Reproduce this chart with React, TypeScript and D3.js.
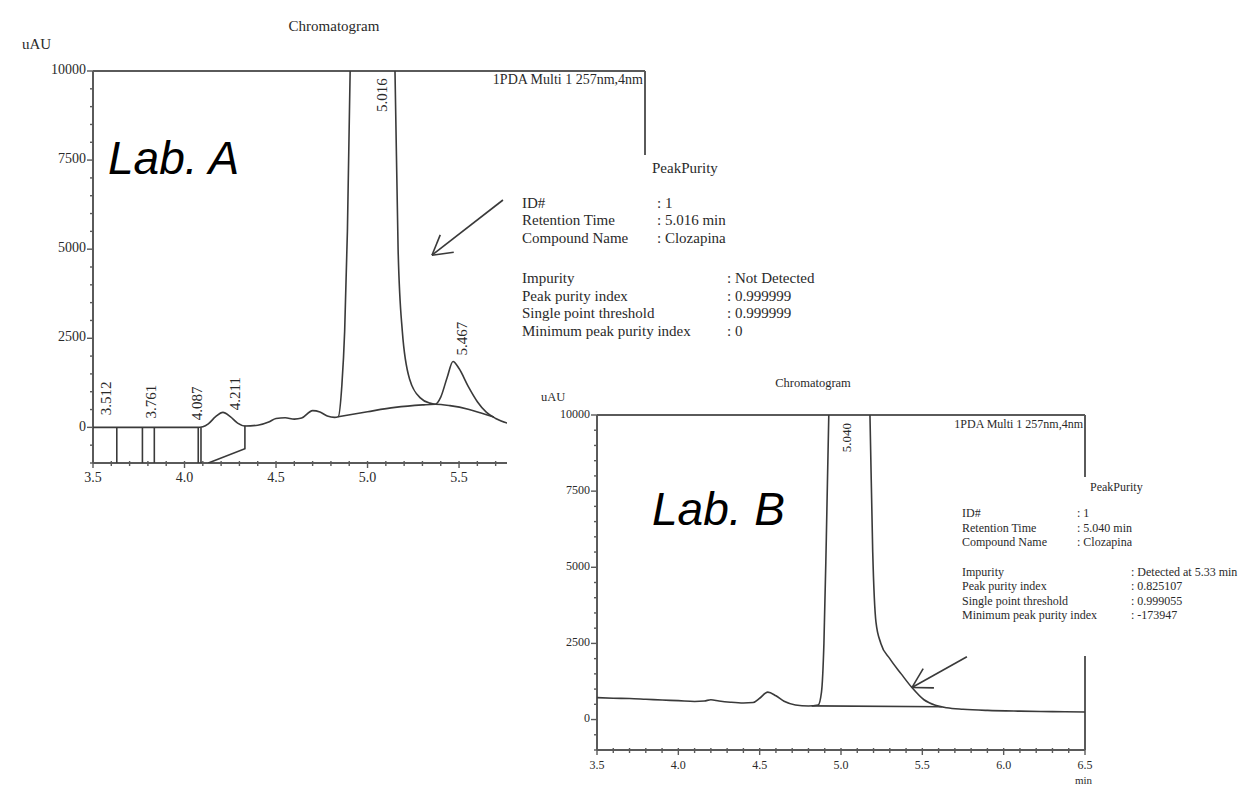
import React from 'react';
import * as d3 from 'd3';

type Pt = [number, number];

// ---------- DATA ----------
const yTickValues = [0, 2500, 5000, 7500, 10000];
const xTicksA = [3.5, 4.0, 4.5, 5.0, 5.5];
const xTicksB = [3.5, 4.0, 4.5, 5.0, 5.5, 6.0, 6.5];

const traceA: Pt[] = [
  [3.5, 0], [4.07, 0], [4.1, 20], [4.13, 100], [4.17, 300], [4.21, 420], [4.25, 300],
  [4.29, 120], [4.33, 40], [4.4, 60], [4.46, 150], [4.5, 250], [4.55, 270], [4.6, 230],
  [4.64, 260], [4.7, 470], [4.74, 430], [4.78, 320], [4.82, 280], [4.84, 300],
  [4.86, 1200], [4.875, 2700], [4.89, 5500], [4.905, 10000], [4.93, 13500], [5.02, 15000],
  [5.12, 13500], [5.15, 10000], [5.167, 5000], [5.19, 2700], [5.23, 1350], [5.29, 820],
  [5.34, 680], [5.37, 650], [5.4, 850], [5.435, 1400], [5.467, 1850], [5.5, 1650],
  [5.55, 1150], [5.6, 720], [5.65, 420], [5.7, 250], [5.77, 110],
];
const baselineA: Pt[] = [
  [4.84, 300], [5.0, 440], [5.15, 560], [5.3, 630], [5.37, 650], [5.45, 610],
  [5.55, 510], [5.62, 400], [5.69, 290],
];
const integrationMarksA = [3.63, 3.77, 3.835, 4.075, 4.09];
const dropShapeA: Pt[] = [[4.33, 50], [4.33, -600], [4.13, -1000]];
const peakLabelsA = [
  { text: '3.512', t: 3.577, v: 340 },
  { text: '3.761', t: 3.828, v: 250 },
  { text: '4.087', t: 4.079, v: 200 },
  { text: '4.211', t: 4.287, v: 480 },
  { text: '5.016', t: 5.085, v: 8850 },
  { text: '5.467', t: 5.522, v: 2020 },
];
const arrowA: Pt[] = [[5.74, 6380], [5.352, 4830]];

const traceB: Pt[] = [
  [3.5, 720], [3.6, 700], [3.7, 690], [3.8, 665], [3.9, 640], [4.0, 620], [4.1, 595],
  [4.16, 610], [4.2, 650], [4.25, 610], [4.32, 570], [4.4, 545], [4.46, 560], [4.5, 700],
  [4.55, 900], [4.6, 780], [4.65, 600], [4.72, 480], [4.8, 445], [4.86, 480], [4.88, 900],
  [4.895, 2500], [4.91, 6000], [4.925, 10000], [4.95, 14000], [5.05, 15500], [5.15, 14000],
  [5.178, 10000], [5.195, 5500], [5.215, 3200], [5.245, 2500], [5.3, 2000], [5.37, 1500],
  [5.436, 1050], [5.51, 650], [5.58, 470], [5.65, 390], [5.75, 340], [5.9, 300],
  [6.1, 275], [6.3, 260], [6.5, 250],
];
const baselineB: Pt[] = [[4.82, 450], [5.62, 420]];
const peakLabelsB = [{ text: '5.040', t: 5.043, v: 8780 }];
const arrowB: Pt[] = [[5.774, 2060], [5.436, 1050]];

const legendText = '1PDA Multi 1 257nm,4nm';
const purityHeader = 'PeakPurity';
const purityIdLabels = ['ID#', 'Retention Time', 'Compound Name'];
const purityResultLabels = ['Impurity', 'Peak purity index', 'Single point threshold', 'Minimum peak purity index'];
const purityIdA = [': 1', ': 5.016 min', ': Clozapina'];
const purityResA = [': Not Detected', ': 0.999999', ': 0.999999', ': 0'];
const purityIdB = [': 1', ': 5.040 min', ': Clozapina'];
const purityResB = [': Detected at 5.33 min', ': 0.825107', ': 0.999055', ': -173947'];

// ---------- COMPONENT ----------
type Layout = {
  id: string;
  left: number; right: number; top: number; bottom: number;
  xDomain: [number, number];
  xTicks: number[];
  fs: number;
  peakFs: number;
  titleX: number; titleY: number; titleFs: number;
  uauX: number; uauY: number;
  legendX: number; legendY: number; legendFs: number;
  frameRight: number; rightSegs: [number, number][];
  minLabel?: boolean;
};

const TEXT = '#2a2a2a';
const LINE = '#3a3a3a';
const AXIS = '#5a5a5a';
const SERIF = '"Liberation Serif", "Times New Roman", serif';

function Arrow({ pts, x, y }: { pts: Pt[]; x: any; y: any }) {
  const x0 = x(pts[0][0]), y0 = y(pts[0][1]);
  const x1 = x(pts[1][0]), y1 = y(pts[1][1]);
  const ang = Math.atan2(y0 - y1, x0 - x1);
  const len = 22, spread = (30 * Math.PI) / 180;
  const b1 = [x1 + len * Math.cos(ang - spread), y1 + len * Math.sin(ang - spread)];
  const b2 = [x1 + len * Math.cos(ang + spread), y1 + len * Math.sin(ang + spread)];
  return (
    <g stroke={LINE} strokeWidth={1.6} fill="none">
      <line x1={x0} y1={y0} x2={x1} y2={y1} />
      <line x1={x1} y1={y1} x2={b1[0]} y2={b1[1]} />
      <line x1={x1} y1={y1} x2={b2[0]} y2={b2[1]} />
    </g>
  );
}

function Chart({ L, trace, baseline, marks, drop, labels, arrow }: {
  L: Layout; trace: Pt[]; baseline: Pt[]; marks: number[]; drop: Pt[] | null;
  labels: { text: string; t: number; v: number }[]; arrow: Pt[];
}) {
  const x = d3.scaleLinear().domain(L.xDomain).range([L.left, L.right]);
  const y = d3.scaleLinear().domain([-1000, 10000]).range([L.bottom, L.top]);
  const line = d3.line<Pt>().x(d => x(d[0])).y(d => y(d[1])).curve(d3.curveMonotoneX);
  const straight = d3.line<Pt>().x(d => x(d[0])).y(d => y(d[1]));
  const yMinor = d3.range(-1000, 10001, 500);
  const xMinor = d3.range(Math.round(L.xDomain[0] * 10), Math.floor(L.xDomain[1] * 10 + 1e-6) + 1).map(v => v / 10);
  const clipId = `clip-${L.id}`;
  return (
    <g>
      <defs>
        <clipPath id={clipId}>
          <rect x={L.left} y={L.top} width={L.right - L.left} height={L.bottom - L.top} />
        </clipPath>
      </defs>
      <text x={L.titleX} y={L.titleY} fontSize={L.titleFs} textAnchor="middle" fill={TEXT} fontFamily={SERIF}>Chromatogram</text>
      <text x={L.uauX} y={L.uauY} fontSize={L.titleFs} fill={TEXT} fontFamily={SERIF}>uAU</text>
      <text x={L.legendX} y={L.legendY} fontSize={L.legendFs} textAnchor="end" fill={TEXT} fontFamily={SERIF}>{legendText}</text>
      <g stroke={AXIS} strokeWidth={2} fill="none">
        <line x1={L.left} y1={L.top} x2={L.frameRight} y2={L.top} />
        {L.rightSegs.map((s, i) => <line key={i} x1={L.frameRight} y1={s[0]} x2={L.frameRight} y2={s[1]} />)}
        <line x1={L.left} y1={L.top} x2={L.left} y2={L.bottom} />
        <line x1={L.left} y1={L.bottom} x2={L.right} y2={L.bottom} />
      </g>
      <g stroke={AXIS} strokeWidth={1.4}>
        {yMinor.map(v => (
          <line key={v} x1={L.left - (yTickValues.includes(v) ? 6 : 3)} x2={L.left} y1={y(v)} y2={y(v)} />
        ))}
        {xMinor.map(v => (
          <line key={v} x1={x(v)} x2={x(v)} y1={L.bottom - 2} y2={L.bottom + (L.xTicks.some(t => Math.abs(t - v) < 1e-6) ? 5 : 3)} />
        ))}
      </g>
      <g fontFamily={SERIF} fontSize={L.fs} fill={TEXT}>
        {yTickValues.map(v => (
          <text key={v} x={L.left - 7} y={y(v)} textAnchor="end" dominantBaseline="middle">{v}</text>
        ))}
        {L.xTicks.map(v => (
          <text key={v} x={x(v)} y={L.bottom + 19} textAnchor="middle">{v.toFixed(1)}</text>
        ))}
        {L.minLabel && <text x={L.right - 10} y={L.bottom + 34} fontSize={L.fs - 1}>min</text>}
      </g>
      <g clipPath={`url(#${clipId})`} fill="none" stroke={LINE} strokeWidth={1.6}>
        <path d={line(trace) || ''} />
        <path d={line(baseline) || ''} />
        {marks.map(t => <line key={t} x1={x(t)} x2={x(t)} y1={y(0)} y2={y(-1000)} />)}
        {drop && <path d={straight(drop) || ''} />}
      </g>
      <g fontFamily={SERIF} fontSize={L.peakFs} fill={TEXT}>
        {labels.map(l => (
          <text key={l.text} transform={`translate(${x(l.t)},${y(l.v)}) rotate(-90)`} dominantBaseline="middle">{l.text}</text>
        ))}
      </g>
      <Arrow pts={arrow} x={x} y={y} />
    </g>
  );
}

function Purity({ hx, hy, lx, c1, c2, ys, fs, idVals, resVals }: {
  hx: number; hy: number; lx: number; c1: number; c2: number; ys: number[]; fs: number;
  idVals: string[]; resVals: string[];
}) {
  return (
    <g fontFamily={SERIF} fontSize={fs} fill={TEXT}>
      <text x={hx} y={hy}>{purityHeader}</text>
      {purityIdLabels.map((s, i) => (
        <g key={s}>
          <text x={lx} y={ys[i]}>{s}</text>
          <text x={c1} y={ys[i]}>{idVals[i]}</text>
        </g>
      ))}
      {purityResultLabels.map((s, i) => (
        <g key={s}>
          <text x={lx} y={ys[i + 3]}>{s}</text>
          <text x={c2} y={ys[i + 3]}>{resVals[i]}</text>
        </g>
      ))}
    </g>
  );
}

const layoutA: Layout = {
  id: 'a', left: 93, right: 507, top: 71, bottom: 463, xDomain: [3.5, 5.762], xTicks: xTicksA,
  fs: 14, peakFs: 15, titleX: 334, titleY: 31, titleFs: 15, uauX: 22, uauY: 49,
  legendX: 643, legendY: 84, legendFs: 14, frameRight: 645, rightSegs: [[71, 155]],
};
const layoutB: Layout = {
  id: 'b', left: 597, right: 1085, top: 415, bottom: 750, xDomain: [3.5, 6.5], xTicks: xTicksB,
  fs: 12, peakFs: 13, titleX: 813, titleY: 387, titleFs: 12.5, uauX: 541, uauY: 401,
  legendX: 1083, legendY: 428, legendFs: 12, frameRight: 1085, rightSegs: [[415, 477], [656, 750]], minLabel: true,
};

export default function App() {
  return (
    <svg width={1242} height={793} style={{ position: 'absolute', left: 0, top: 0, background: '#fff' }}>
      <rect width={1242} height={793} fill="#fff" />
      <Chart L={layoutA} trace={traceA} baseline={baselineA} marks={integrationMarksA} drop={dropShapeA} labels={peakLabelsA} arrow={arrowA} />
      <Purity hx={652} hy={173} lx={522} c1={657} c2={727} ys={[208, 225, 243, 283, 301, 318, 336]} fs={15} idVals={purityIdA} resVals={purityResA} />
      <Chart L={layoutB} trace={traceB} baseline={baselineB} marks={[]} drop={null} labels={peakLabelsB} arrow={arrowB} />
      <Purity hx={1090} hy={491} lx={962} c1={1077} c2={1131} ys={[517, 532, 546, 576, 590, 605, 619]} fs={12} idVals={purityIdB} resVals={purityResB} />
      <text x={108} y={174} fontFamily='"Liberation Sans", Arial, sans-serif' fontStyle="italic" fontSize={46} fill="#000">Lab. A</text>
      <text x={652} y={525} fontFamily='"Liberation Sans", Arial, sans-serif' fontStyle="italic" fontSize={46} fill="#000">Lab. B</text>
    </svg>
  );
}
